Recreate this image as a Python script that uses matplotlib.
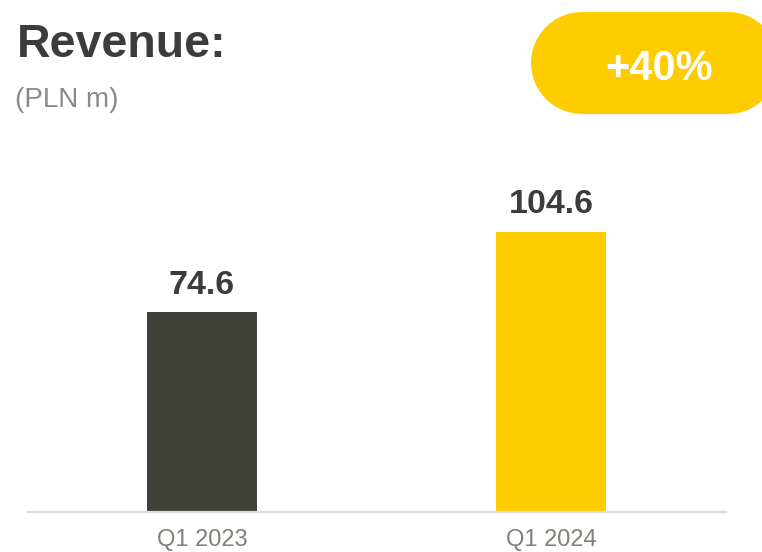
import matplotlib
matplotlib.use('Agg')
from matplotlib import pyplot as plt

# quarterly revenue, PLN m
periods = ['Q1 2023', 'Q1 2024']
revenue = [74.6, 104.6]
growth_label = '+40%'

dark = '#40413b'
yellow = '#ffcc00'
font = 'Liberation Sans'

W, H = 762, 552
fig = plt.figure(figsize=(W / 100, H / 100), dpi=100)

# bar axes: baseline at y=512px, spans x 27..726px
ax_left, ax_right = 27.5 / W, 725.5 / W
ax_bottom = (H - 512) / H
ax_height = (130 * 200 / 74.6) / H
ax = fig.add_axes([ax_left, ax_bottom, ax_right - ax_left, ax_height])

x = range(len(periods))
ax.bar(x, revenue, width=0.315, color=[dark, yellow], zorder=2)
for xi, v in zip(x, revenue):
    ax.annotate(f'{v:.1f}', (xi, v), xytext=(0, 13.3), textcoords='offset points',
                ha='center', va='baseline', fontsize=24.5, fontweight='bold',
                color='#3c3c3a', fontname=font)

ax.set_xlim(-0.5, 1.5)
ax.set_ylim(0, 130)
ax.set_xticks(list(x))
ax.set_xticklabels(periods, fontsize=17, color='#808078', fontname=font)
ax.tick_params(axis='x', length=0, pad=12.5)
ax.set_yticks([])
for side in ['top', 'right', 'left']:
    ax.spines[side].set_visible(False)
ax.spines['bottom'].set_color('#dcdcdc')
ax.spines['bottom'].set_linewidth(1.6)
ax.patch.set_alpha(0)

# overlay in pixel coordinates for headings and the growth badge
ov = fig.add_axes([0, 0, 1, 1], zorder=5)
ov.set_xlim(0, W)
ov.set_ylim(H, 0)
ov.axis('off')
ov.patch.set_alpha(0)

ov.text(17, 57, 'Revenue:', fontsize=33.5, fontweight='bold', color='#3c3c3a',
        fontname=font, va='baseline', ha='left')
ov.text(15, 107, '(PLN m)', fontsize=20, color='#8a8a8a',
        fontname=font, va='baseline', ha='left')

# pill badge: a thick line with round caps, 102px tall
ov.plot([582, 728], [63, 63], color=yellow, linewidth=102 * 72 / 100,
        solid_capstyle='round', zorder=1)
ov.text(659, 79.5, growth_label, fontsize=30, fontweight='bold', color='white',
        fontname=font, ha='center', va='baseline', zorder=2)

fig.savefig('out.png', dpi=100)
